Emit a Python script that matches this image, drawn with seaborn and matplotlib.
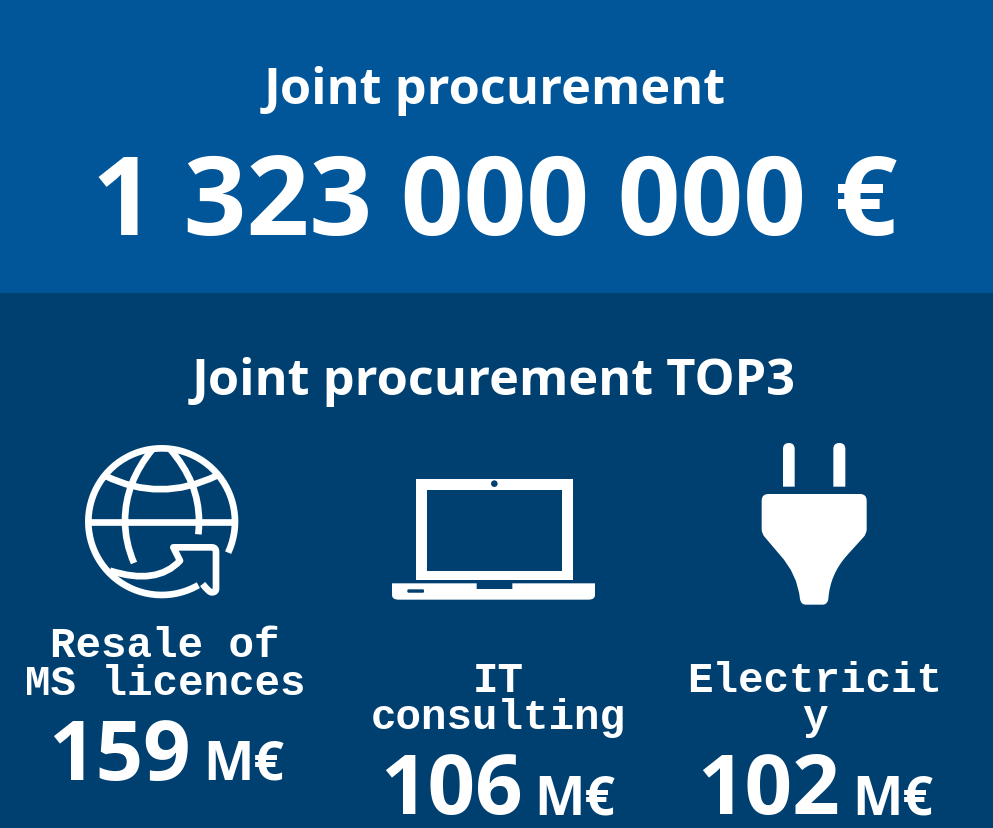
import matplotlib
matplotlib.use("Agg")
import matplotlib.pyplot as plt
import numpy as np
import seaborn as sns
from matplotlib.patches import Rectangle, PathPatch, Circle, FancyBboxPatch
from matplotlib.path import Path

# ---- content ----
main_title = "Joint procurement"
main_value = "1 323 000 000 €"
sub_title = "Joint procurement TOP3"
item_labels = [["Resale of", "MS licences"], ["IT", "consulting"], ["Electricit", "y"]]
item_values = ["159", "106", "102"]
unit = "M€"

TOP = "#01569A"
BOTTOM = "#004070"
WHITE = "#FFFFFF"
SANS = "Open Sans"
MONO = "Liberation Mono"

sns.set_theme(style="white")
fig, ax = plt.subplots(figsize=(9.93, 8.29), dpi=100)
fig.subplots_adjust(0, 0, 1, 1)
ax.set_xlim(0, 993)
ax.set_ylim(829, 0)
ax.axis("off")
sns.despine(ax=ax, left=True, bottom=True)

ax.add_patch(Rectangle((0, 0), 993, 294, fc=TOP, ec="none"))
ax.add_patch(Rectangle((0, 294), 993, 535, fc=BOTTOM, ec="none"))

def T(x, y, s, size, ha="center", fam=SANS, **kw):
    ax.text(x, y, s, color=WHITE, fontsize=size, fontweight="bold",
            family=fam, ha=ha, va="baseline", **kw)

T(494.5, 104, main_title, 36.4)
T(495, 235, main_value, 79.3)
T(493.5, 395, sub_title, 36.4)

label_x = [165, 498, 815]
label_base = [695, 729, 729]
label_ls = [0.93, 0.9, 0.9]
for x, lines, y, ls in zip(label_x, item_labels, label_base, label_ls):
    T(x, y, "\n".join(lines), 30.6, fam=MONO, linespacing=ls, multialignment="center")

val_x = [119, 451, 768]
val_y = [780, 814.5, 814.5]
unit_x = [244, 575, 893]
for vx, ux, y, v in zip(val_x, unit_x, val_y, item_values):
    T(vx, y, v, 60)
    T(ux, y, unit, 38.5)

# ---- icons (decoration) ----
def stroke(verts, codes, lw):
    ax.add_patch(PathPatch(Path(verts, codes), fc="none", ec=WHITE, lw=lw,
                           capstyle="butt", joinstyle="round"))

M, L, C3 = Path.MOVETO, Path.LINETO, Path.CURVE3

# globe
def G(x, y):
    return (60 + x / 3, 430 + y / 3)

gw = 4.8
gc = G(305, 278)
th = np.radians(np.linspace(25, -300, 160))
r = 220 / 3
gv = [(gc[0] + r * np.cos(t), gc[1] + r * np.sin(t)) for t in th]
stroke(gv, [M] + [L] * (len(gv) - 1), gw)
stroke([G(90, 278), G(520, 278)], [M, L], gw)
stroke([G(135, 140), G(300, 222), G(470, 140)], [M, C3, C3], gw)
stroke([G(278, 60), G(195, 160), G(195, 275), G(195, 340), G(222, 402)],
       [M, C3, C3, C3, C3], gw)
stroke([G(330, 60), G(417, 160), G(417, 275), G(417, 300), G(415, 316)],
       [M, C3, C3, C3, C3], gw)
stroke([G(150, 425), G(290, 470), G(360, 395), G(340, 355), G(455, 355),
        G(468, 355), G(468, 368), G(468, 480), G(468, 490), G(455, 490),
        G(447, 490), G(428, 465)],
       [M, C3, C3, L, L, C3, C3, L, C3, C3, C3, C3], gw)

# laptop
def K(x, y):
    return (380 + x / 3, 430 + y / 3)

ax.add_patch(PathPatch(Path(
    [K(107, 150), K(580, 150), K(580, 452), K(107, 452), K(107, 150),
     K(142, 182), K(142, 426), K(545, 426), K(545, 182), K(142, 182)],
    [M, L, L, L, Path.CLOSEPOLY, M, L, L, L, Path.CLOSEPOLY]),
    fc=WHITE, ec="none"))
ax.add_patch(Circle(K(343, 164), 3.3, fc=BOTTOM, ec="none"))
ax.add_patch(PathPatch(Path(
    [K(36, 463), K(290, 463), K(290, 480), K(397, 480), K(397, 463), K(645, 463),
     K(645, 498), K(645, 512), K(625, 512), K(56, 512), K(36, 512), K(36, 498), K(36, 463)],
    [M, L, L, L, L, L, L, C3, C3, L, C3, C3, Path.CLOSEPOLY]),
    fc=WHITE, ec="none"))
ax.add_patch(FancyBboxPatch(K(82, 481), 16.7, 3.4, boxstyle="round,pad=0,rounding_size=1.2",
                            fc=BOTTOM, ec="none"))

# plug
def P(x, y):
    return (740 + x / 3, 430 + y / 3)

for x0, x1 in [(129, 164), (280, 316)]:
    xm = (x0 + x1) / 2
    ax.add_patch(PathPatch(Path(
        [P(x0, 173), P(x0, 60), P(x0, 42), P(xm, 42), P(x1, 42), P(x1, 60), P(x1, 173), P(x0, 173)],
        [M, L, C3, C3, C3, C3, L, Path.CLOSEPOLY]), fc=WHITE, ec="none"))
ax.add_patch(PathPatch(Path(
    [P(85, 195), P(360, 195), P(380, 195), P(380, 215), P(380, 300), P(380, 315), P(370, 325),
     P(322, 378), P(270, 435), P(265, 510), P(262, 527), P(248, 527),
     P(197, 527), P(183, 527), P(180, 510), P(172, 435), P(120, 378),
     P(75, 325), P(65, 315), P(65, 300), P(65, 215), P(65, 195), P(85, 195)],
    [M, L, C3, C3, L, C3, C3, L, C3, C3, C3, C3, L, C3, C3, C3, C3, L, C3, C3, L, C3, C3]),
    fc=WHITE, ec="none"))

fig.savefig("out.png", dpi=100, facecolor=BOTTOM)
